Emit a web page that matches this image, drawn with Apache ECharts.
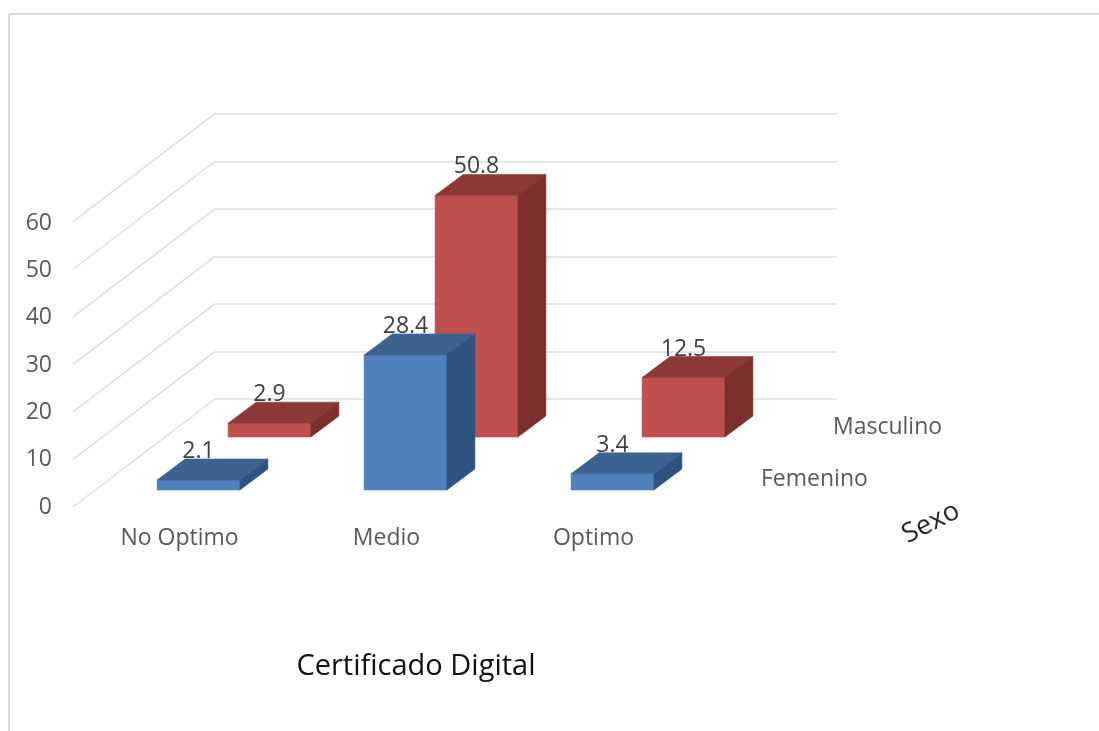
<!DOCTYPE html>
<html>
<head>
<meta charset="utf-8">
<title>Certificado Digital</title>
<style>
html,body{margin:0;padding:0;background:#fff;}
#chart{width:1099px;height:731px;}
</style>
<script src="https://cdn.jsdelivr.net/npm/echarts@6/dist/echarts.min.js"></script>
</head>
<body>
<div id="chart"></div>
<script>
var categories = ['No Optimo', 'Medio', 'Optimo'];
var femenino = [2.1, 28.4, 3.4];
var masculino = [2.9, 50.8, 12.5];
var yTicks = [0, 10, 20, 30, 40, 50, 60];
var seriesNames = ['Femenino', 'Masculino'];
var xName = 'Certificado Digital';
var zName = 'Sexo';

var fontName = '"Open Sans", sans-serif';
var plotHeight = 285.3;  // 60 units

// depth of the bars and of the floor
var barDepth = [28, -21];
var wallDepth = [-142, 108];

function face(points, color) {
    return {type: 'polygon', shape: {points: points}, style: {fill: color, stroke: color, lineWidth: 0.6}};
}

function barItem(front, top, side) {
    return function (params, api) {
        var idx = api.value(0);
        var val = api.value(1);
        var p0 = api.coord([idx, 0]);
        var p1 = api.coord([idx, val]);
        var w = api.size([1, 0])[0] * 0.4;
        var l = p0[0] - w / 2, r = p0[0] + w / 2;
        var dx = barDepth[0], dy = barDepth[1];
        return {
            type: 'group',
            children: [
                face([[l, p1[1]], [r, p1[1]], [r, p0[1]], [l, p0[1]]], front),
                face([[l, p1[1]], [l + dx, p1[1] + dy], [r + dx, p1[1] + dy], [r, p1[1]]], top),
                face([[r, p1[1]], [r + dx, p1[1] + dy], [r + dx, p0[1] + dy], [r, p0[1]]], side),
                {type: 'text', style: {
                    text: String(val), x: p0[0], y: p1[1] + dy + 4,
                    textAlign: 'center', textVerticalAlign: 'bottom',
                    fill: '#404040', font: '23px ' + fontName
                }}
            ]
        };
    };
}

function wallItem(params, api) {
    var y = api.coord([0, api.value(1)])[1];
    var x = params.coordSys.x;
    return {
        type: 'line',
        shape: {x1: x, y1: y, x2: x + wallDepth[0], y2: y + wallDepth[1]},
        style: {stroke: '#dedede', lineWidth: 1.5}
    };
}

function hiddenX(i) {
    return {type: 'category', gridIndex: i, data: categories, show: false};
}
function hiddenY(i) {
    return {type: 'value', gridIndex: i, min: 0, max: 60, interval: 10, show: false};
}

var chart = echarts.init(document.getElementById('chart'));

var option = {
    animation: false,
    backgroundColor: '#fff',
    grid: [
        // back wall
        {left: 215, width: 622, top: 113.7, height: plotHeight},
        // labels of the axes
        {left: 76, width: 621, top: 223, height: 284},
        // back row
        {left: 166, width: 621, top: 437 - plotHeight, height: plotHeight},
        // front row
        {left: 95, width: 621, top: 490 - plotHeight, height: plotHeight}
    ],
    xAxis: [
        hiddenX(0),
        {
            type: 'category',
            gridIndex: 1,
            data: categories,
            axisLine: {show: false},
            axisTick: {show: false},
            axisLabel: {margin: 20, fontSize: 23, color: '#595959', fontFamily: fontName}
        },
        hiddenX(2),
        hiddenX(3)
    ],
    yAxis: [
        {
            type: 'value',
            gridIndex: 0,
            min: 0,
            max: 60,
            interval: 10,
            axisLine: {show: false},
            axisTick: {show: false},
            axisLabel: {show: false},
            splitLine: {lineStyle: {color: '#dcdcdc', width: 1.5}}
        },
        {
            type: 'value',
            gridIndex: 1,
            min: 0,
            max: 60,
            interval: 10,
            axisLine: {show: false},
            axisTick: {show: false},
            splitLine: {show: false},
            axisLabel: {margin: 24, fontSize: 23, color: '#595959', fontFamily: fontName}
        },
        hiddenY(2),
        hiddenY(3)
    ],
    series: [
        {
            type: 'custom',
            name: 'wall',
            xAxisIndex: 0,
            yAxisIndex: 0,
            renderItem: wallItem,
            data: yTicks.map(function (v) { return [0, v]; }),
            silent: true
        },
        {
            type: 'custom',
            name: seriesNames[1],
            xAxisIndex: 2,
            yAxisIndex: 2,
            renderItem: barItem('#c0504d', '#8c3836', '#7c2f2d'),
            encode: {x: 0, y: 1},
            data: masculino.map(function (v, i) { return [i, v]; })
        },
        {
            type: 'custom',
            name: seriesNames[0],
            xAxisIndex: 3,
            yAxisIndex: 3,
            z: 3,
            renderItem: barItem('#4f81bd', '#3b6290', '#2f5280'),
            encode: {x: 0, y: 1},
            data: femenino.map(function (v, i) { return [i, v]; })
        }
    ],
    graphic: [
        // frame of the pasted picture
        {type: 'line', shape: {x1: 9, y1: 14, x2: 1099, y2: 14}, style: {stroke: '#d9d9d9', lineWidth: 2}},
        {type: 'line', shape: {x1: 9, y1: 14, x2: 9, y2: 731}, style: {stroke: '#d9d9d9', lineWidth: 2}},
        {type: 'text', x: 833, y: 427, style: {text: seriesNames[1], textVerticalAlign: 'middle', fill: '#595959', font: '23px ' + fontName}},
        {type: 'text', x: 761, y: 479, style: {text: seriesNames[0], textVerticalAlign: 'middle', fill: '#595959', font: '23px ' + fontName}},
        {type: 'text', x: 931, y: 523, rotation: 27 * Math.PI / 180, style: {text: zName, textAlign: 'center', textVerticalAlign: 'middle', fill: '#262626', font: '27px ' + fontName}},
        {type: 'text', x: 416, y: 667, style: {text: xName, textAlign: 'center', textVerticalAlign: 'middle', fill: '#111', font: '29px ' + fontName}}
    ]
};

chart.setOption(option);
</script>
</body>
</html>
